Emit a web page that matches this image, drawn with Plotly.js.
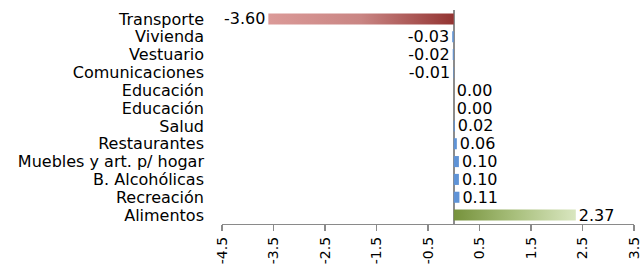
<!DOCTYPE html>
<html>
<head>
<meta charset="utf-8">
<script src="https://cdn.plot.ly/plotly-3.0.1.min.js"></script>
<style>
html,body{margin:0;padding:0;background:#fff;}
#chart{width:642px;height:272px;}
</style>
</head>
<body>
<div id="chart"></div>
<script>
const categories = ['Transporte','Vivienda','Vestuario','Comunicaciones','Educación','Educación','Salud','Restaurantes','Muebles y art. p/ hogar','B. Alcohólicas','Recreación','Alimentos'];
const values = [-3.60,-0.03,-0.02,-0.01,0.00,0.00,0.02,0.06,0.10,0.10,0.11,2.37];
const xTickVals = [-4.5,-3.5,-2.5,-1.5,-0.5,0.5,1.5,2.5,3.5];

const positions = categories.map((c,i)=>i);
const blue = '#5F93D6';
const colors = values.map(()=>blue);

const trace = {
  type:'bar',
  orientation:'h',
  x: values,
  y: positions,
  width: 0.62,
  marker:{color: colors, line:{width:0}},
  text: values.map(v=>v.toFixed(2)),
  textposition:'outside',
  constraintext:'none',
  cliponaxis:false,
  textfont:{family:'DejaVu Sans', size:16, color:'#000'},
  hoverinfo:'none'
};

const layout = {
  width:642, height:272,
  margin:{l:222, r:8, t:10, b:48},
  paper_bgcolor:'#fff', plot_bgcolor:'#fff',
  showlegend:false,
  font:{family:'DejaVu Sans', size:16, color:'#000'},
  xaxis:{
    range:[-4.5,3.5],
    tickvals: xTickVals,
    ticktext: xTickVals.map(v=>v.toFixed(1)),
    tickangle:-90,
    tickfont:{size:14, color:'#000'},
    showgrid:false,
    showline:true, linecolor:'#8a8a8a', linewidth:1.3,
    ticks:'outside', ticklen:6, tickcolor:'#8a8a8a', tickwidth:1.3,
    zeroline:true, zerolinecolor:'#8c8c8c', zerolinewidth:2,
    fixedrange:true
  },
  yaxis:{
    range:[11.5,-0.5],
    tickvals: positions,
    ticktext: categories,
    tickfont:{size:16, color:'#000'},
    showgrid:false, zeroline:false, showline:false,
    ticks:'', ticklabelstandoff:17,
    fixedrange:true
  }
};

Plotly.newPlot('chart',[trace],layout,{displayModeBar:false, staticPlot:true}).then(gd=>{
  const svg = gd.querySelector('svg.main-svg');
  const defs = svg.querySelector('defs');
  const NS = 'http://www.w3.org/2000/svg';
  function addGrad(id, stops){
    const g = document.createElementNS(NS,'linearGradient');
    g.setAttribute('id',id);
    g.setAttribute('x1','0'); g.setAttribute('y1','0');
    g.setAttribute('x2','1'); g.setAttribute('y2','0');
    stops.forEach(([off,col])=>{
      const s = document.createElementNS(NS,'stop');
      s.setAttribute('offset',off);
      s.setAttribute('stop-color',col);
      g.appendChild(s);
    });
    defs.appendChild(g);
  }
  addGrad('gradRed',[['0','#DB9A98'],['0.5','#C98583'],['1','#933432']]);
  addGrad('gradGreen',[['0','#76923C'],['0.5','#A8BF7C'],['1','#D9E6C0']]);
  const paths = gd.querySelectorAll('.barlayer .point path');
  const minIdx = values.indexOf(Math.min(...values));
  const maxIdx = values.indexOf(Math.max(...values));
  if(paths[minIdx]) paths[minIdx].style.fill = 'url(#gradRed)';
  if(paths[maxIdx]) paths[maxIdx].style.fill = 'url(#gradGreen)';
});
</script>
</body>
</html>
